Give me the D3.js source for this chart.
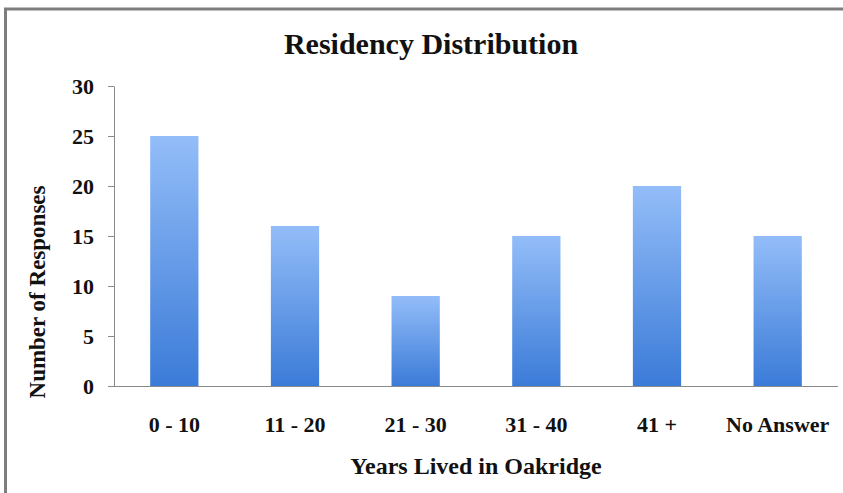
<!DOCTYPE html>
<html>
<head>
<meta charset="utf-8">
<script src="https://cdn.jsdelivr.net/npm/d3@7"></script>
<style>
  html, body { margin: 0; padding: 0; background: #fff; }
  svg { display: block; }
  text { font-family: "Liberation Serif", "Times New Roman", serif; font-weight: bold; fill: #111; }
</style>
</head>
<body>
<script>
// Survey responses by years lived in Oakridge
const categories = ["0 - 10", "11 - 20", "21 - 30", "31 - 40", "41 +", "No Answer"];
const responses = [25, 16, 9, 15, 20, 15];
const yTicks = [0, 5, 10, 15, 20, 25, 30];

const W = 843, H = 493;
const svg = d3.select("body").append("svg").attr("width", W).attr("height", H);

// frame around the chart area
svg.append("path")
  .attr("d", `M5.5,${H + 5} V9 H${W + 5}`)
  .attr("fill", "none")
  .attr("stroke", "#7d7d7d")
  .attr("stroke-width", 3);

const plot = { left: 114, right: 838, top: 86, bottom: 386 };

const x = d3.scaleBand()
  .domain(categories)
  .range([plot.left, plot.right])
  .paddingInner(0.6)
  .paddingOuter(0.3);

const y = d3.scaleLinear().domain([0, 30]).range([plot.bottom, plot.top]);

// vertical gradient used by every bar
const grad = svg.append("defs").append("linearGradient")
  .attr("id", "barFill")
  .attr("x1", 0).attr("y1", 0).attr("x2", 0).attr("y2", 1);
grad.append("stop").attr("offset", "0%").attr("stop-color", "#93bdf8");
grad.append("stop").attr("offset", "100%").attr("stop-color", "#3b7bd8");

svg.append("g").selectAll("rect")
  .data(categories)
  .join("rect")
  .attr("x", d => x(d))
  .attr("width", x.bandwidth())
  .attr("y", (d, i) => y(responses[i]))
  .attr("height", (d, i) => y(0) - y(responses[i]))
  .attr("fill", "url(#barFill)");

// y axis
const yAxis = svg.append("g")
  .attr("transform", `translate(${plot.left},0)`)
  .call(d3.axisLeft(y).tickValues(yTicks).tickSize(6).tickSizeOuter(0).tickPadding(14));
yAxis.select(".domain").attr("stroke", "#8a8a8a");
yAxis.selectAll(".tick line").attr("stroke", "#8a8a8a");
yAxis.selectAll(".tick text")
  .style("font-size", "22px")
  .style("font-family", "'Liberation Serif', serif")
  .style("font-weight", "bold")
  .attr("fill", "#111");

// x axis
const xAxis = svg.append("g")
  .attr("transform", `translate(0,${plot.bottom})`)
  .call(d3.axisBottom(x).tickSize(0).tickSizeOuter(0).tickPadding(30));
xAxis.select(".domain")
  .attr("stroke", "#8a8a8a")
  .attr("d", `M${plot.left - 6},0.5H${plot.right}`);
xAxis.selectAll(".tick text")
  .style("font-size", "22px")
  .style("font-family", "'Liberation Serif', serif")
  .style("font-weight", "bold")
  .attr("fill", "#111");

// titles
svg.append("text")
  .attr("x", 431).attr("y", 54)
  .attr("text-anchor", "middle")
  .style("font-size", "30px")
  .text("Residency Distribution");

svg.append("text")
  .attr("x", 476).attr("y", 474)
  .attr("text-anchor", "middle")
  .style("font-size", "24px")
  .text("Years Lived in Oakridge");

svg.append("text")
  .attr("transform", "translate(45,292) rotate(-90)")
  .attr("text-anchor", "middle")
  .style("font-size", "23px")
  .text("Number of Responses");
</script>
</body>
</html>
